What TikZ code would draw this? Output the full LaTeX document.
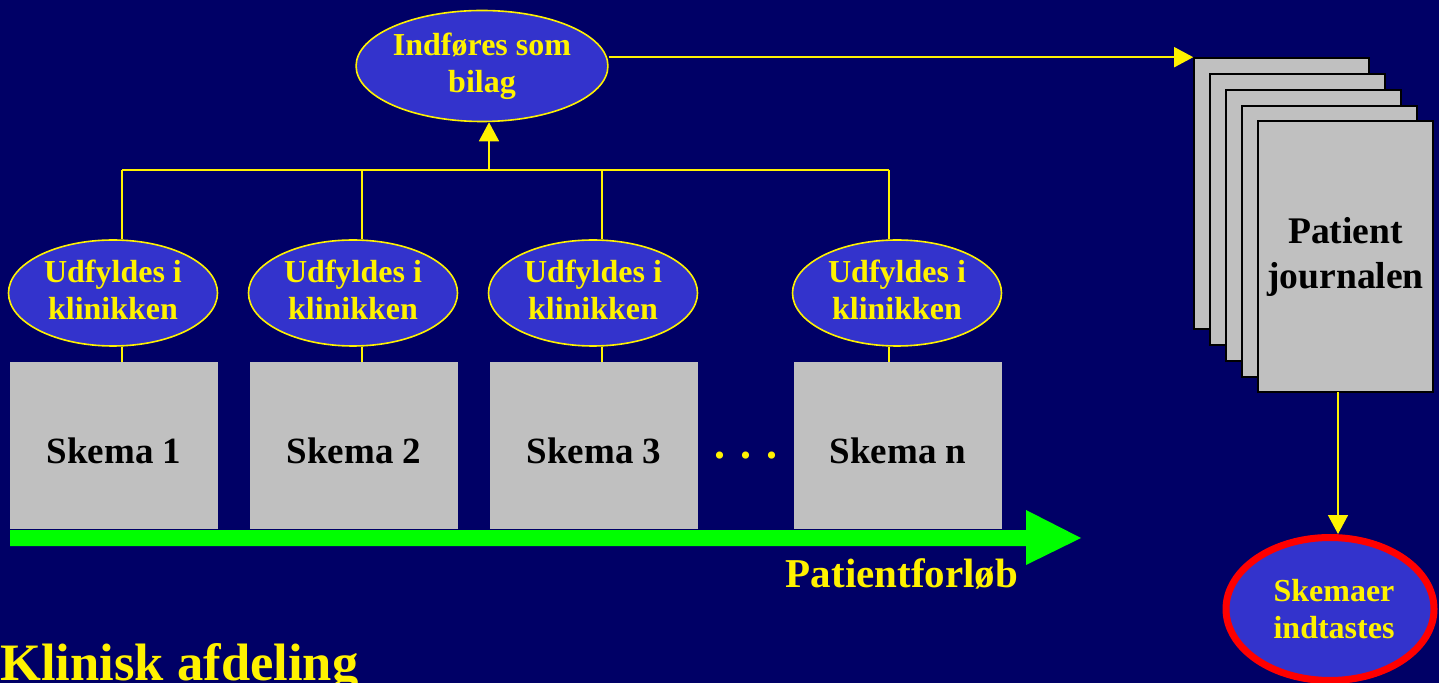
\documentclass[tikz,border=0pt]{standalone}
\usepackage{fontspec}
\setmainfont{Liberation Serif}
\usetikzlibrary{shapes.geometric,arrows.meta}

\definecolor{slidebg}{RGB}{0,0,102}
\definecolor{blobblue}{RGB}{51,51,204}
\definecolor{skemagray}{RGB}{192,192,192}
\definecolor{flowgreen}{RGB}{0,255,0}

\tikzset{
  blob/.style={ellipse,draw=yellow,line width=0.8pt,fill=blobblue,text=yellow,
    align=center,inner sep=0pt,font=\bfseries\fontsize{16}{18.5}\selectfont},
  skema/.style={rectangle,fill=skemagray,minimum width=104pt,minimum height=83.5pt,
    inner sep=0pt,text height=18.6pt,font=\bfseries\fontsize{18.5}{22}\selectfont},
  page/.style={rectangle,draw=black,line width=0.8pt,fill=skemagray,
    minimum width=87.5pt,minimum height=135.5pt,inner sep=0pt},
  link/.style={yellow,line width=0.8pt},
  arr/.style={link,-{Triangle[width=10pt,length=9.5pt]}}
}

\begin{document}
\begin{tikzpicture}[x=0.5pt,y=-0.5pt]

	\fill[slidebg](0,0) rectangle (1439,683);
	\useasboundingbox (0,0) rectangle (1439,683);

	% top ellipse
	\node[blob,minimum width=120pt,minimum height=55.5pt] (bilag) at (482,66) {Indføres som\\bilag};

	% ellipses and schemes along the patient course
	\foreach \n/\x/\s in {1/113/1,2/353/2,3/593/3,4/897/n}{
		\node[blob,text depth=3pt,minimum width=104.5pt,minimum height=53pt] (udf\n) at (\x,293) {Udfyldes i\\klinikken};
		\node[skema] (sk\n) at (\x+1,445.5) {Skema \s};
	}
	\node[text=yellow,font=\bfseries\fontsize{22}{22}\selectfont] (dots) at (746,456) {. . .};

	% bus up to the top ellipse
	\coordinate (bus1) at (122,170);
	\coordinate (bus2) at (362,170);
	\coordinate (bus3) at (602,170);
	\coordinate (bus4) at (889,170);
	\coordinate (busmid) at (489,170);
	\draw[link](bus1)--(bus4);
	\foreach \n in {1,...,4}{
		\draw[link](bus\n)--(bus\n |- udf\n.north);
		\draw[link](bus\n |- udf\n.south)--(bus\n |- sk\n.north);
	}
	\draw[arr](busmid)--(busmid |- bilag.south);

	% green arrow
	\fill[flowgreen](10,530)--(1026,530)--(1026,510)--(1081,538)--(1026,565)
	--(1026,546)--(10,546)--cycle;
	\node[text=yellow,font=\bfseries\fontsize{20.5}{24}\selectfont,anchor=base] (forloeb) at (902,587) {Patientforløb};

	% stack of journal pages
	\foreach \i in {1,...,4}
		\node[page] (p\i) at ({1281.5+16*(\i-1)},{193.5+16*(\i-1)}) {};
	\node[page,align=center,font=\bfseries\fontsize{18.8}{22.5}\selectfont] (p5) at (1345.5,256.5) {Patient\\journalen};
	\draw[arr](bilag.east |- p1.north west)--(p1.north west);

	% red ellipse
	\node[blob,draw=red,line width=3.5pt,minimum width=104pt,minimum height=71.5pt] (indtast) at (1330,609) {\hspace*{4pt}Skemaer\\\hspace*{4pt}indtastes};
	\coordinate (down) at (1338,392);
	\draw[arr](down)--(down |- indtast.north);

	\node[text=yellow,font=\bfseries\fontsize{26.3}{30}\selectfont,anchor=base west,inner sep=0pt] (afd) at (0,680) {Klinisk afdeling};

\end{tikzpicture}
\end{document}
